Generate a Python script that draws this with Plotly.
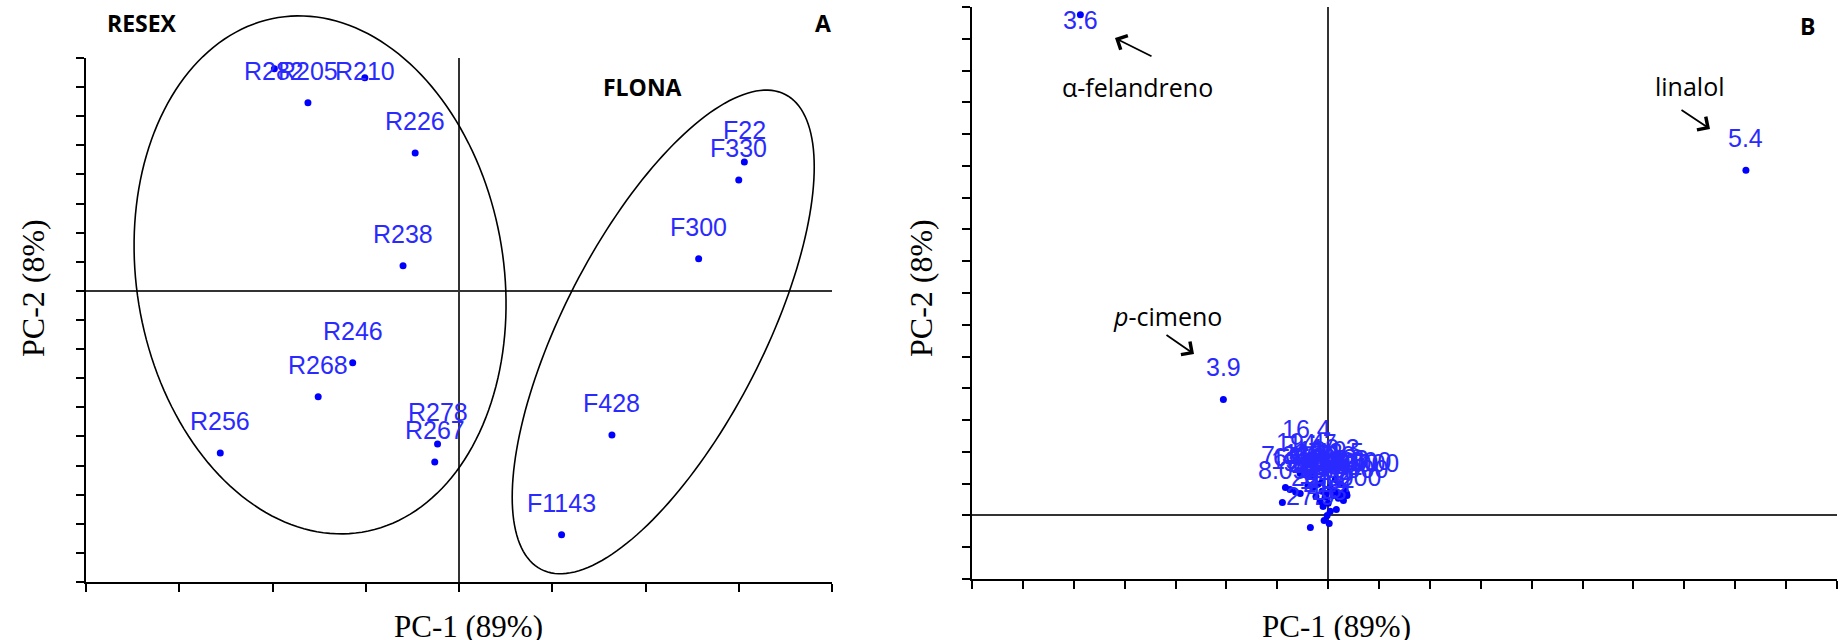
import numpy as np
import plotly.graph_objects as go

W, H = 1841, 640

# ---------------- Panel A : samples ----------------
a_labels = ["R282", "R205", "R210", "R226", "R238", "R246", "R268", "R256",
            "R278", "R267", "F22", "F330", "F300", "F428", "F1143"]
a_pc1 = [-1.98, -1.62, -1.01, -0.47, -0.60, -1.14, -1.51, -2.56,
         -0.23, -0.26, 3.06, 3.00, 2.57, 1.64, 1.10]
a_pc2 = [7.63, 6.46, 7.32, 4.74, 0.86, -2.47, -3.64, -5.57,
         -5.26, -5.88, 4.43, 3.81, 1.10, -4.95, -8.38]

# ---------------- Panel B : compounds ----------------
b_labels = ["3.6", "5.4", "3.9", "5.3",
            "16.4", "19.4", "14.7", "17.2", "11.5", "12.6", "15.1", "13.3",
            "9.2", "6.5", "18.3", "8.05", "7.36", "10.0000", "20.0000", "30.00000",
            "20.1", "22.5", "10.7", "23.2", "21.4", "4.8", "2.3", "27.9",
            "5.8", "1.7", "29.0000", "26.1", "13.9",
            "11.9", "14.2", "16.8", "12.1", "18.9", "15.6", "40.0000", "19.8"]
b_pc1 = [-4.87, 8.21, -2.06, 1.00,
         -0.43, -0.55, -0.31, -0.20, 0.24, 0.04, -0.12, 0.33,
         -0.55, -0.75, 0.14, -0.90, -0.84, 0.30, 0.16, 0.37,
         -0.06, 0.00, -0.10, 0.04, -0.02, -0.08, 0.02, -0.35,
         -0.16, -0.04, 0.10, 0.20, -0.24,
         -0.40, -0.28, 0.08, 0.18, -0.12, 0.28, 0.36, -0.64]
b_pc2 = [15.76, 10.86, 3.65, -2.01,
         1.70, 1.32, 1.26, 0.98, 0.98, 0.88, 0.76, 0.76,
         0.69, 0.82, 1.13, 0.41, 0.88, 0.47, 0.19, 0.63,
         0.57, 0.38, 0.28, 0.13, 0.00, -0.16, -0.25, -0.38,
         0.44, 0.69, 0.63, 0.54, 0.60,
         0.95, 0.90, 0.80, 0.72, 1.05, 0.66, 0.70, 0.74]

# axis set-up (ranges / domains)
XA_RANGE, YA_RANGE = [-4, 4], [-10, 8]
XB_RANGE, YB_RANGE = [-7, 10], [-2, 16]
XA_DOM = [86 / W, 832 / W]
YA_DOM = [1 - 582 / H, 1 - 58 / H]
XB_DOM = [972 / W, 1837 / W]
YB_DOM = [1 - 579 / H, 1 - 7 / H]

# group ellipses (center in data units, semi-axes in pixels, angle in degrees)
ellipses = [
    dict(cx=-1.49, cy=0.55, a=260.7, b=183.6, ang=99.25),   # RESEX
    dict(cx=2.19, cy=-1.41, a=267.0, b=100.0, ang=62.8),    # FLONA
]

DOT = "#0000ff"
LAB = "#2a2aff"


def to_px(x, y, xr, yr, xd, yd):
    px = (xd[0] + (x - xr[0]) / (xr[1] - xr[0]) * (xd[1] - xd[0])) * W
    py = (1 - (yd[0] + (y - yr[0]) / (yr[1] - yr[0]) * (yd[1] - yd[0]))) * H
    return px, py


fig = go.Figure()

fig.add_trace(go.Scatter(x=a_pc1, y=a_pc2, mode="markers", xaxis="x", yaxis="y",
                         marker=dict(color=DOT, size=7), cliponaxis=False,
                         hoverinfo="text", text=a_labels, showlegend=False))
fig.add_trace(go.Scatter(x=b_pc1, y=b_pc2, mode="markers", xaxis="x2", yaxis="y2",
                         marker=dict(color=DOT, size=7), cliponaxis=False,
                         hoverinfo="text", text=b_labels, showlegend=False))

annotations = []
LABEL_FONT = dict(family="Liberation Sans, Arial", size=25, color=LAB)


def point_labels(xs, ys, labels, xr, yr, xd, yd, xref, yref):
    top_px = (1 - yd[1]) * H
    for x, y, t in zip(xs, ys, labels):
        _, py = to_px(x, y, xr, yr, xd, yd)
        center = max(py - 32, top_px + 13)
        annotations.append(dict(x=x, y=y, xref=xref, yref=yref, text=t,
                                xanchor="center", yanchor="middle",
                                showarrow=False, yshift=py - center,
                                font=LABEL_FONT))


point_labels(a_pc1, a_pc2, a_labels, XA_RANGE, YA_RANGE, XA_DOM, YA_DOM, "x", "y")
point_labels(b_pc1, b_pc2, b_labels, XB_RANGE, YB_RANGE, XB_DOM, YB_DOM, "x2", "y2")

# ellipses as paper-space paths (not clipped)
shapes = []
t = np.linspace(0, 2 * np.pi, 181)
for e in ellipses:
    cpx, cpy = to_px(e["cx"], e["cy"], XA_RANGE, YA_RANGE, XA_DOM, YA_DOM)
    th = np.deg2rad(e["ang"])
    dx = e["a"] * np.cos(t) * np.cos(th) - e["b"] * np.sin(t) * np.sin(th)
    dy = e["a"] * np.cos(t) * np.sin(th) + e["b"] * np.sin(t) * np.cos(th)
    xs = (cpx + dx) / W
    ys = 1 - (cpy - dy) / H
    path = "M " + " L ".join(f"{u:.5f},{v:.5f}" for u, v in zip(xs, ys)) + " Z"
    shapes.append(dict(type="path", path=path, xref="paper", yref="paper",
                       line=dict(color="black", width=1.6)))


def pa(px, py):
    return px / W, 1 - py / H


def paper_text(txt, px, py, font, **kw):
    x, y = pa(px, py)
    d = dict(x=x, y=y, xref="paper", yref="paper", text=txt, showarrow=False,
             xanchor="center", yanchor="middle", font=font)
    d.update(kw)
    annotations.append(d)


BOLD = dict(family="Open Sans, Lato", size=23, color="black")
for txt, (px, py) in [("<b>RESEX</b>", (142, 23)), ("<b>FLONA</b>", (642, 87)),
                      ("<b>A</b>", (823, 23)), ("<b>B</b>", (1807, 26))]:
    paper_text(txt, px, py, BOLD)

SERIF_Y = dict(family="Liberation Serif, Times New Roman", size=32, color="black")
SERIF_X = dict(family="Liberation Serif, Times New Roman", size=31, color="black")
for px in (33, 921):
    paper_text("PC-2 (8%)", px, 288, SERIF_Y, textangle=-90)
for px in (468, 1336):
    paper_text("PC-1 (89%)", px, 626, SERIF_X)

NOTE = dict(family="Open Sans, Lato", size=25, color="black")
for txt, (px, py) in [("α-felandreno", (1137, 87)), ("linalol", (1690, 86)),
                      ("<i>p</i>-cimeno", (1167, 316))]:
    paper_text(txt, px, py, NOTE)
for (hx, hy), (tx, ty) in [((1115, 38), (1153, 57)), ((1710, 129), (1680, 109)),
                           ((1194, 354), (1165, 334))]:
    x, y = pa(hx, hy)
    annotations.append(dict(x=x, y=y, xref="paper", yref="paper", text="",
                            showarrow=True, arrowhead=4, arrowsize=1.7,
                            arrowwidth=1.8, arrowcolor="black",
                            ax=tx - hx, ay=ty - hy))

axis_common = dict(showgrid=False, zeroline=True, zerolinewidth=2, zerolinecolor="#333",
                   showline=True, linewidth=2, linecolor="black", ticks="outside",
                   ticklen=8, tickwidth=2, tickcolor="black", showticklabels=False,
                   dtick=1, tick0=0, fixedrange=True)

fig.update_layout(
    width=W, height=H, margin=dict(l=0, r=0, t=0, b=0),
    plot_bgcolor="white", paper_bgcolor="white", showlegend=False,
    xaxis=dict(domain=XA_DOM, range=XA_RANGE, anchor="y", **axis_common),
    yaxis=dict(domain=YA_DOM, range=YA_RANGE, anchor="x", **axis_common),
    xaxis2=dict(domain=XB_DOM, range=XB_RANGE, anchor="y2", **axis_common),
    yaxis2=dict(domain=YB_DOM, range=YB_RANGE, anchor="x2", **axis_common),
    shapes=shapes, annotations=annotations,
)

fig.write_html("out.html", include_plotlyjs=True, config={"displayModeBar": False},
               post_script="document.body.style.margin='0';document.body.style.overflow='hidden';")
